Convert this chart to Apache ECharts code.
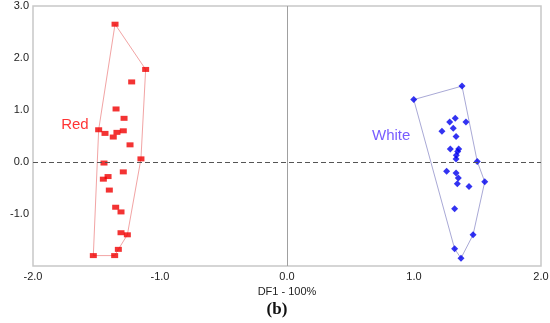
<!DOCTYPE html>
<html>
<head>
<meta charset="utf-8">
<script src="https://cdn.jsdelivr.net/npm/echarts@6/dist/echarts.min.js"></script>
<style>html,body{margin:0;padding:0;background:#fff}#c{width:550px;height:323px}</style>
</head>
<body>
<div id="c"></div>
<script>
var redX = [-1.354,-1.113,-1.223,-1.346,-1.283,-1.483,-1.433,-1.339,-1.289,-1.368,-1.236,-1.150,-1.441,-1.289,-1.409,-1.446,-1.399,-1.349,-1.307,-1.307,-1.257,-1.328,-1.357,-1.525];
var redY = [2.65,1.78,1.54,1.02,0.84,0.62,0.55,0.57,0.60,0.48,0.33,0.06,-0.02,-0.19,-0.28,-0.33,-0.54,-0.87,-0.96,-1.36,-1.40,-1.68,-1.80,-1.80];
var redHull = [0,1,11,20,21,22,23,5,0];
var whiteX = [1.378,0.998,1.325,1.281,1.409,1.220,1.309,1.331,1.286,1.352,1.344,1.333,1.331,1.498,1.257,1.331,1.349,1.341,1.557,1.433,1.320,1.465,1.320,1.370];
var whiteY = [1.46,1.20,0.84,0.77,0.77,0.59,0.65,0.49,0.25,0.25,0.20,0.13,0.06,0.01,-0.18,-0.21,-0.31,-0.42,-0.38,-0.47,-0.90,-1.40,-1.67,-1.85];
var whiteHull = [0,1,22,23,21,18,13,0];
var groupLabels = ['Red', 'White'];
var groupLabelX = [-1.67, 0.82];
var groupLabelY = [0.71, 0.50];
var groupLabelColors = ['#ff0000', '#5533ff'];
var xTicks = {min:-2, max:2, interval:1};
var yTicks = {min:-2, max:3, interval:1};

function pts(xs, ys){ return xs.map(function(v,i){return [v, ys[i]];}); }
function hull(xs, ys, idx){ return idx.map(function(i){return [xs[i], ys[i]];}); }

var chart = echarts.init(document.getElementById('c'), null, {renderer:'canvas'});
var font = 'Liberation Sans, Arial, sans-serif';
chart.setOption({
  animation:false,
  textStyle:{fontFamily:font},
  grid:{left:33, right:9, top:6, bottom:57, containLabel:false, outerBoundsMode:'none',
    show:true, borderColor:'#c8c8c8', borderWidth:1.5, backgroundColor:'#fff'},
  xAxis:{type:'value', min:xTicks.min, max:xTicks.max, interval:xTicks.interval,
    axisLine:{show:false}, axisTick:{show:false}, splitLine:{show:false},
    axisLabel:{color:'#222', fontSize:11, fontFamily:font, margin:5, formatter:function(v){return v.toFixed(1);}},
    name:'DF1 - 100%', nameLocation:'middle', nameGap:17, nameTextStyle:{color:'#222', fontSize:11, fontFamily:font}},
  yAxis:{type:'value', min:yTicks.min, max:yTicks.max, interval:yTicks.interval,
    axisLine:{show:false}, axisTick:{show:false}, splitLine:{show:false},
    axisLabel:{color:'#222', fontSize:11, fontFamily:font, margin:4, showMinLabel:false, formatter:function(v){return v.toFixed(1);}},
    name:'DF2 - 0%', nameLocation:'middle', nameGap:17, nameTextStyle:{color:'#222', fontSize:11, fontFamily:font}},
  series:[
    {type:'line', data:hull(redX, redY, redHull), symbol:'none', lineStyle:{color:'#f2a4a4', width:1}, z:2,
     markLine:{silent:true, symbol:'none', label:{show:false},
       data:[{xAxis:0, lineStyle:{color:'#a0a0a0', type:'solid', width:1}},
             {yAxis:0, lineStyle:{color:'#555', type:[5,3], width:1}}]}},
    {type:'line', data:hull(whiteX, whiteY, whiteHull), symbol:'none', lineStyle:{color:'#a9a9d6', width:1}, z:2},
    {type:'scatter', data:pts(redX, redY), symbol:'rect', symbolSize:[7,5], itemStyle:{color:'#f00000'}, z:3},
    {type:'scatter', data:pts(whiteX, whiteY), symbol:'diamond', symbolSize:[7,7], itemStyle:{color:'#0000ee'}, z:3},
    {type:'scatter', symbolSize:0, z:4, itemStyle:{color:'transparent'},
     data:groupLabels.map(function(n,i){return {name:n, value:[groupLabelX[i], groupLabelY[i]], label:{color:groupLabelColors[i]}};}),
     label:{show:true, position:'inside', fontSize:15, fontFamily:font, formatter:function(p){return p.name;}}}
  ],
  graphic:[{type:'text', x:277, y:310, style:{text:'(b)', align:'center', verticalAlign:'middle', font:'bold 17px "Liberation Serif", "DejaVu Serif", serif', fill:'#111'}}]
});
</script>
</body>
</html>
